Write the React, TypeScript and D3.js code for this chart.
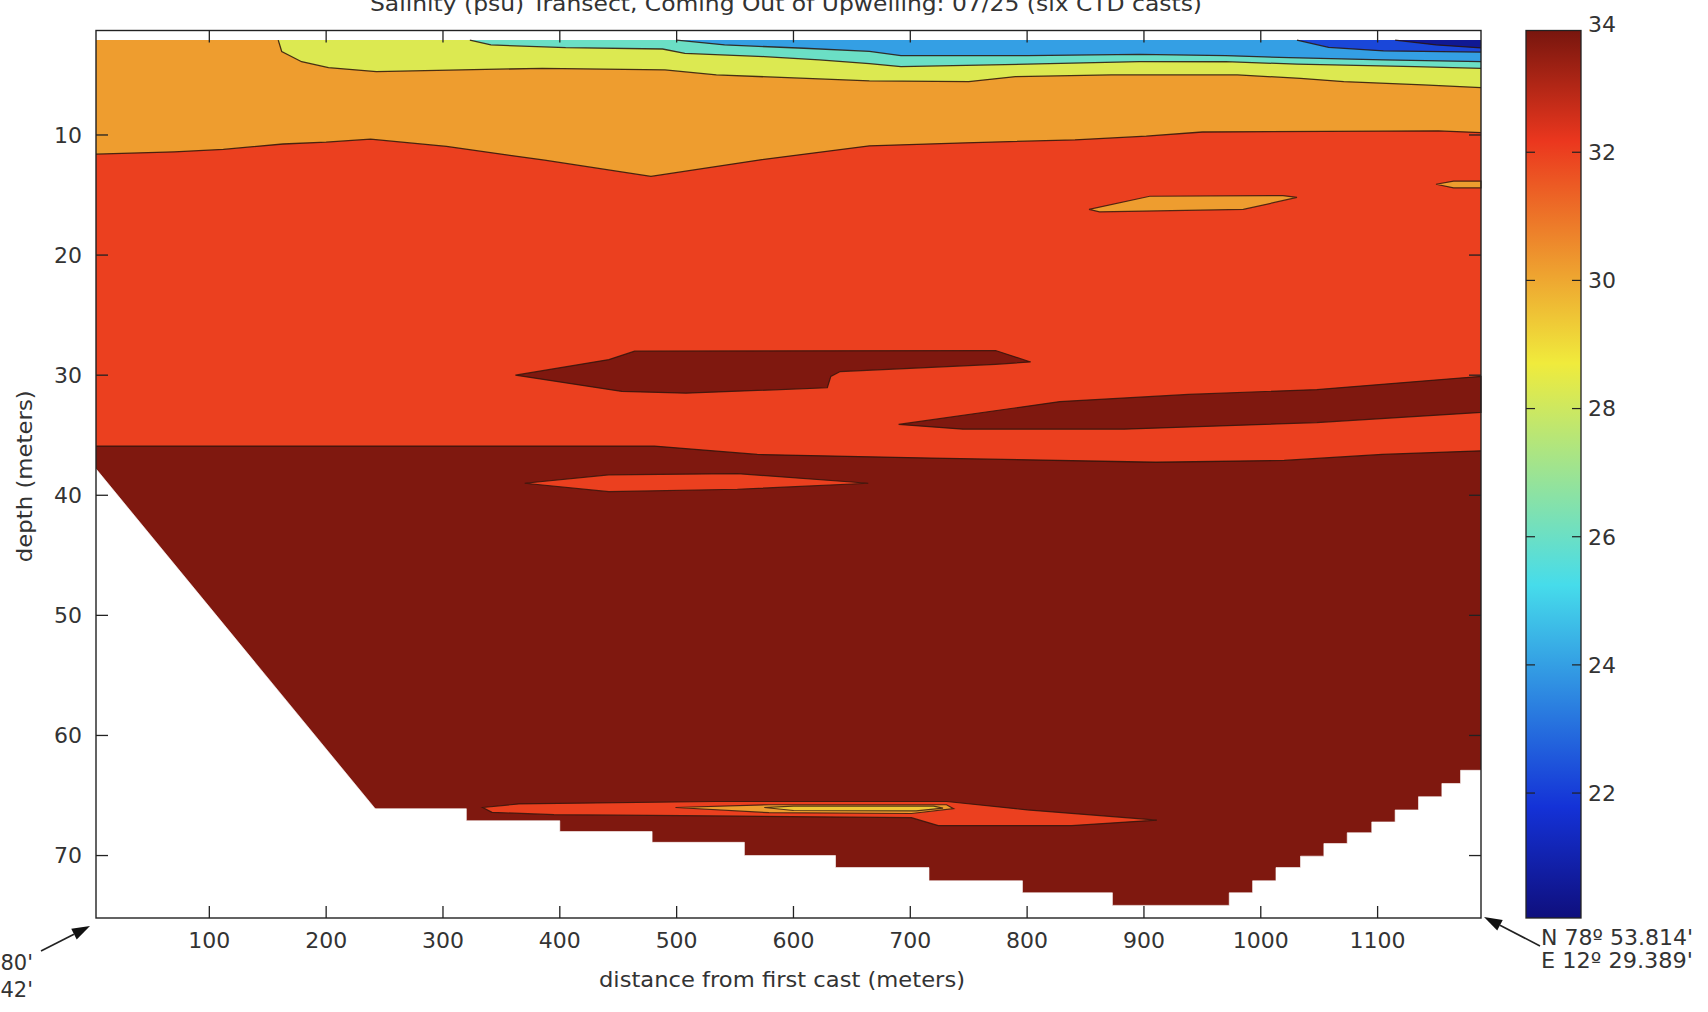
import React from 'react';
import * as d3 from 'd3';

type Pt = [number, number];

// axis ticks
const xTicks = [100, 200, 300, 400, 500, 600, 700, 800, 900, 1000, 1100];
const yTicks = [10, 20, 30, 40, 50, 60, 70];
const cbTicks = [22, 24, 26, 28, 30, 32, 34];

const distanceExtent: Pt = [3, 1188.5];
const depthExtent: Pt = [1.3, 75.2];
const salinityExtent: Pt = [20.05, 33.9];
const surfaceDepth = 2.1;

const iso21: Pt[] = [[1115, 2.1], [1150, 2.5], [1188.5, 2.75]];
const iso23: Pt[] = [[1031, 2.1], [1058, 2.7], [1105, 3.0], [1188.5, 3.1]];
const iso25: Pt[] = [[500, 2.1], [541, 2.5], [609, 2.78], [665, 3.03], [692, 3.4], [800, 3.4], [896, 3.28], [970, 3.4], [1024, 3.56], [1105, 3.75], [1188.5, 3.9]];
const iso27: Pt[] = [[323, 2.1], [341, 2.5], [405, 2.73], [488, 2.84], [507, 3.2], [575, 3.47], [622, 3.75], [665, 4.05], [692, 4.3], [800, 4.1], [896, 3.9], [970, 3.9], [1031, 4.1], [1132, 4.3], [1188.5, 4.45]];
const iso29: Pt[] = [[159, 2.1], [162, 3.06], [179, 3.9], [202, 4.4], [243, 4.72], [385, 4.45], [490, 4.58], [534, 5.0], [622, 5.33], [665, 5.5], [750, 5.55], [790, 5.14], [872, 5.0], [980, 5.0], [1034, 5.28], [1071, 5.55], [1139, 5.83], [1188.5, 6.05]];
const iso31: Pt[] = [[3, 11.6], [70, 11.4], [112, 11.2], [163, 10.75], [200, 10.6], [238, 10.35], [303, 10.95], [387, 12.1], [478, 13.45], [573, 12.05], [665, 10.9], [747, 10.65], [841, 10.4], [902, 10.1], [950, 9.75], [1152, 9.65], [1188.5, 9.8]];
const iso33: Pt[] = [[3, 35.9], [332, 35.9], [481, 35.9], [569, 36.6], [718, 36.9], [910, 37.25], [1020, 37.1], [1104, 36.6], [1188.5, 36.3]];

// salinity of the band lying above each interface, last one is the deep water
const bandSalinity = [20.5, 22.2, 24.0, 26.0, 28.3, 30.2, 32.0, 33.8];

// closed lenses
const lensDeep1: Pt[] = [[362, 30.0], [442, 28.7], [464, 28.0], [773, 27.95], [803, 28.9], [773, 29.1], [640, 29.7], [632, 30.1], [629, 31.05], [508, 31.5], [453, 31.35]];
const lensDeep2: Pt[] = [[690, 34.1], [828, 32.2], [938, 31.6], [1048, 31.2], [1188.5, 30.1], [1188.5, 33.1], [1048, 33.95], [883, 34.5], [745, 34.5]];
const lensMid: Pt[] = [[370, 39.0], [442, 38.3], [552, 38.2], [664, 39.0], [552, 39.5], [442, 39.7]];
const lensFresh: Pt[] = [[853, 16.2], [905, 15.1], [1019, 15.05], [1031, 15.2], [985, 16.2], [862, 16.4]];
const lensEdge: Pt[] = [[1150, 14.1], [1165, 13.85], [1188.5, 13.85], [1188.5, 14.4], [1165, 14.4]];
const lensFloor: Pt[] = [[334, 66.0], [365, 65.7], [533, 65.5], [731, 65.5], [800, 66.2], [911, 67.05], [838, 67.5], [724, 67.5], [701, 66.85], [533, 66.7], [395, 66.6], [342, 66.4]];
const lensFloorCore: Pt[] = [[499, 66.0], [579, 65.77], [731, 65.77], [737, 66.1], [701, 66.5], [579, 66.43]];
const lensFloorInner: Pt[] = [[575, 66.0], [600, 65.88], [720, 65.88], [728, 66.05], [705, 66.28], [600, 66.25]];
const lensSalinity = [33.8, 33.8, 32.0, 30.2, 30.2, 32.0, 30.2, 29.4];

// sea floor (no data below)
const seafloorSlope: Pt[] = [[3, 37.8], [242, 66.1]];
const seafloorSteps: Pt[] = [[242, 66.1], [320, 67.1], [400, 68.0], [479, 68.9], [558, 70.0], [636, 71.0], [716, 72.1], [796, 73.1], [873, 74.15], [973, 73.1], [993, 72.1], [1013, 71.0], [1034, 70.05], [1054, 69.0], [1074, 68.1], [1095, 67.2], [1115, 66.2], [1135, 65.1], [1155, 64.0], [1171, 62.9], [1188.5, 62.9]];

const jetStops = [0, 0.125, 0.375, 0.625, 0.875, 1];
const jetColors = ['#0f0f7d', '#1432d7', '#46dceb', '#f0eb3c', '#eb371e', '#78160e'];

const PLOT = { LEFT: 96, RIGHT: 1481, TOP: 30.5, BOTTOM: 918 };
const CB = { LEFT: 1526, RIGHT: 1581 };
const TICK = 12;

const App = () => {
  const x = d3.scaleLinear().domain(distanceExtent).range([PLOT.LEFT, PLOT.RIGHT]);
  const y = d3.scaleLinear().domain(depthExtent).range([PLOT.TOP, PLOT.BOTTOM]);
  const cbY = d3.scaleLinear().domain(salinityExtent).range([PLOT.BOTTOM, PLOT.TOP]);
  const jet = d3
    .scaleLinear<string>()
    .domain(jetStops.map((t) => salinityExtent[0] + t * (salinityExtent[1] - salinityExtent[0])))
    .range(jetColors)
    .interpolate(d3.interpolateRgb)
    .clamp(true);

  const isolines = [iso21, iso23, iso25, iso27, iso29, iso31, iso33];
  const lenses = [lensDeep1, lensDeep2, lensMid, lensFresh, lensEdge, lensFloor, lensFloorCore, lensFloorInner];

  const band = d3.area<Pt>().x((d) => x(d[0])).y0(y(surfaceDepth)).y1((d) => y(d[1]));
  const line = d3.line<Pt>().x((d) => x(d[0])).y((d) => y(d[1]));
  const closed = d3.line<Pt>().x((d) => x(d[0])).y((d) => y(d[1])).curve(d3.curveLinearClosed);
  const floorSlope = d3.area<Pt>().x((d) => x(d[0])).y0((d) => y(d[1])).y1(PLOT.BOTTOM);
  const floorSteps = d3.area<Pt>().x((d) => x(d[0])).y0((d) => y(d[1])).y1(PLOT.BOTTOM).curve(d3.curveStepAfter);

  const tickFont = { fontFamily: 'DejaVu Sans', fontSize: 22, fill: '#333' };
  const labelFont = { fontFamily: 'DejaVu Sans', fill: '#333' };

  const arrow = (x1: number, y1: number, x2: number, y2: number) => {
    const a = Math.atan2(y2 - y1, x2 - x1);
    const L = 18, w = 6;
    const bx = x2 - L * Math.cos(a), by = y2 - L * Math.sin(a);
    const p = [
      [x2, y2],
      [bx + w * Math.sin(a), by - w * Math.cos(a)],
      [bx - w * Math.sin(a), by + w * Math.cos(a)],
    ];
    return (
      <g>
        <line x1={x1} y1={y1} x2={bx} y2={by} stroke="#222" strokeWidth={1.6} />
        <polygon points={p.map((q) => q.join(',')).join(' ')} fill="#111" />
      </g>
    );
  };

  return (
    <div style={{ position: 'absolute', left: 0, top: 0 }}>
      <svg width={1708} height={1012} style={{ display: 'block', background: '#fff' }}>
        <defs>
          <linearGradient id="jet" x1="0" y1="1" x2="0" y2="0">
            {jetStops.map((t, i) => (
              <stop key={i} offset={t} stopColor={jetColors[i]} />
            ))}
          </linearGradient>
        </defs>

        {/* filled bands */}
        <rect
          x={x(distanceExtent[0])}
          y={y(surfaceDepth)}
          width={x(distanceExtent[1]) - x(distanceExtent[0])}
          height={PLOT.BOTTOM - y(surfaceDepth)}
          fill={jet(bandSalinity[7])}
        />
        {isolines
          .map((iso, i) => ({ iso, s: bandSalinity[i] }))
          .reverse()
          .map(({ iso, s }, i) => (
            <path key={i} d={band(iso) || ''} fill={jet(s)} />
          ))}

        {/* lenses */}
        {lenses.map((l, i) => (
          <path key={i} d={closed(l) || ''} fill={jet(lensSalinity[i])} />
        ))}

        {/* sea floor */}
        <path
          d={(floorSlope(seafloorSlope) || '') + (floorSteps(seafloorSteps) || '')}
          fill="#fff"
          stroke="#fff"
          strokeWidth={0.6}
        />

        {/* contour lines */}
        {isolines.map((iso, i) => (
          <path key={i} d={line(iso) || ''} fill="none" stroke="#2a140c" strokeWidth={1.3} strokeOpacity={0.85} />
        ))}
        {lenses.map((l, i) => (
          <path key={i} d={closed(l) || ''} fill="none" stroke="#2a140c" strokeWidth={1.2} strokeOpacity={0.8} />
        ))}

        {/* frame and ticks */}
        <rect
          x={PLOT.LEFT}
          y={PLOT.TOP}
          width={PLOT.RIGHT - PLOT.LEFT}
          height={PLOT.BOTTOM - PLOT.TOP}
          fill="none"
          stroke="#222"
          strokeWidth={1.4}
        />
        {xTicks.map((t) => (
          <g key={t}>
            <line x1={x(t)} x2={x(t)} y1={PLOT.BOTTOM} y2={PLOT.BOTTOM - TICK} stroke="#222" strokeWidth={1.3} />
            <line x1={x(t)} x2={x(t)} y1={PLOT.TOP} y2={PLOT.TOP + TICK} stroke="#222" strokeWidth={1.3} />
            <text x={x(t)} y={948} textAnchor="middle" {...tickFont}>
              {t}
            </text>
          </g>
        ))}
        {yTicks.map((t) => (
          <g key={t}>
            <line x1={PLOT.LEFT} x2={PLOT.LEFT + TICK} y1={y(t)} y2={y(t)} stroke="#222" strokeWidth={1.3} />
            <line x1={PLOT.RIGHT} x2={PLOT.RIGHT - TICK} y1={y(t)} y2={y(t)} stroke="#222" strokeWidth={1.3} />
            <text x={82} y={y(t)} dy="0.36em" textAnchor="end" {...tickFont}>
              {t}
            </text>
          </g>
        ))}

        {/* colour bar */}
        <rect x={CB.LEFT} y={PLOT.TOP} width={CB.RIGHT - CB.LEFT} height={PLOT.BOTTOM - PLOT.TOP} fill="url(#jet)" stroke="#222" strokeWidth={1.3} />
        {cbTicks.map((t) => (
          <g key={t}>
            {cbY(t) >= PLOT.TOP && (
              <>
                <line x1={CB.LEFT} x2={CB.LEFT + 9} y1={cbY(t)} y2={cbY(t)} stroke="#222" strokeWidth={1.2} />
                <line x1={CB.RIGHT} x2={CB.RIGHT - 9} y1={cbY(t)} y2={cbY(t)} stroke="#222" strokeWidth={1.2} />
              </>
            )}
            <text x={1588} y={cbY(t)} dy="0.36em" textAnchor="start" {...tickFont}>
              {t}
            </text>
          </g>
        ))}

        {/* titles */}
        <text x={786} y={11} textAnchor="middle" fontSize={21} textLength={832} lengthAdjust="spacingAndGlyphs" {...labelFont}>
          Salinity (psu) Transect, Coming Out of Upwelling: 07/25 (six CTD casts)
        </text>
        <text x={782} y={987} textAnchor="middle" fontSize={21} textLength={366} lengthAdjust="spacingAndGlyphs" {...labelFont}>
          distance from first cast (meters)
        </text>
        <text
          transform={`translate(32, ${(PLOT.TOP + PLOT.BOTTOM) / 2 + 2}) rotate(-90)`}
          textAnchor="middle"
          fontSize={21}
          textLength={172}
          lengthAdjust="spacingAndGlyphs"
          {...labelFont}
        >
          depth (meters)
        </text>

        {/* cast positions */}
        {arrow(41, 951, 90, 926)}
        <text x={33} y={970} textAnchor="end" fontSize={21} {...labelFont}>
          80'
        </text>
        <text x={33} y={997} textAnchor="end" fontSize={21} {...labelFont}>
          42'
        </text>
        {arrow(1540, 946, 1484, 917)}
        <text x={1541} y={945} fontSize={21} textLength={152} lengthAdjust="spacingAndGlyphs" {...labelFont}>
          N 78º 53.814'
        </text>
        <text x={1541} y={968} fontSize={21} textLength={152} lengthAdjust="spacingAndGlyphs" {...labelFont}>
          E 12º 29.389'
        </text>
      </svg>
    </div>
  );
};

export default App;
